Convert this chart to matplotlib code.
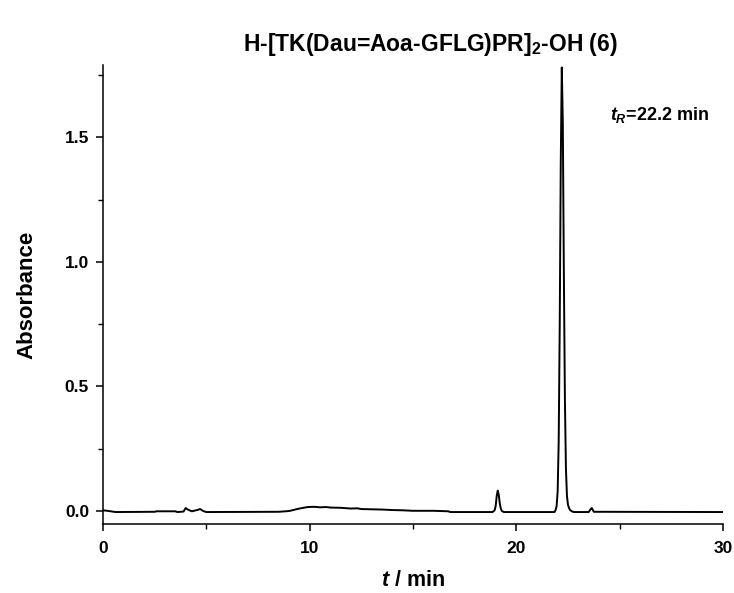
import matplotlib
matplotlib.use("Agg")
import matplotlib.pyplot as plt
from matplotlib.ticker import MultipleLocator

plt.rcParams['font.family'] = ['Liberation Sans', 'DejaVu Sans']
plt.rcParams['mathtext.fontset'] = 'custom'
plt.rcParams['mathtext.rm'] = 'Liberation Sans:bold'
plt.rcParams['mathtext.it'] = 'Liberation Sans:bold:italic'
plt.rcParams['mathtext.bf'] = 'Liberation Sans:bold'

# chromatogram (time in min, absorbance)
time_min = [0.0, 0.3, 0.6, 2.5, 2.6, 3.5, 3.6, 3.9, 4.0, 4.1, 4.3, 4.55, 4.7, 4.85, 5.0,
            8.5, 9.0, 9.5, 9.9, 10.2, 10.5, 10.8, 11.0, 11.5, 12.0, 12.3, 12.5, 13.0,
            13.5, 14.0, 14.5, 15.0, 16.0, 16.7, 16.8,
            18.85, 18.95, 19.0, 19.05, 19.1, 19.15, 19.2, 19.25, 19.3, 19.4,
            21.85, 21.9, 21.95, 22.0, 22.05, 22.1, 22.15, 22.2, 22.25, 22.3, 22.35,
            22.4, 22.45, 22.5, 22.55, 22.6, 22.7, 22.8,
            23.5, 23.6, 23.65, 23.75, 30.0]
absorbance = [0.003, 0.0, -0.004, -0.003, -0.001, -0.001, -0.004, -0.002, 0.012, 0.006,
              -0.001, 0.004, 0.008, 0.0, -0.004,
              -0.003, 0.0, 0.01, 0.016, 0.017, 0.015, 0.016, 0.014, 0.013, 0.01, 0.011,
              0.008, 0.007, 0.006, 0.004, 0.003, 0.001, 0.001, -0.001, -0.004,
              -0.004, 0.003, 0.02, 0.06, 0.082, 0.065, 0.03, 0.01, 0.0, -0.004,
              -0.004, 0.004, 0.02, 0.08, 0.28, 0.75, 1.40, 1.78, 1.55, 0.95, 0.45,
              0.17, 0.06, 0.025, 0.012, 0.004, -0.002, -0.004,
              -0.004, 0.008, 0.012, -0.003, -0.004]

title = 'H-[TK(Dau=Aoa-GFLG)PR]$_2$-OH (6)'
peak_label = '$t_R$=22.2 min'
x_label = '$t$ / min'
y_label = 'Absorbance'

fig = plt.figure(figsize=(7.34, 5.93), dpi=100)
ax = fig.add_axes([103/734, 1 - 524/593, (723 - 103)/734, (524 - 65)/593])
ax.plot(time_min, absorbance, color='black', lw=1.4)

ax.set_xlim(0, 30)
ax.set_ylim(-0.052, 1.79)
ax.xaxis.set_major_locator(MultipleLocator(10))
ax.xaxis.set_minor_locator(MultipleLocator(5))
ax.yaxis.set_major_locator(MultipleLocator(0.5))
ax.yaxis.set_minor_locator(MultipleLocator(0.25))
ax.yaxis.set_major_formatter(matplotlib.ticker.FormatStrFormatter('%.1f'))
for s in ['top', 'right']:
    ax.spines[s].set_visible(False)
for s in ['left', 'bottom']:
    ax.spines[s].set_linewidth(1.1)
ax.tick_params(which='major', direction='out', length=5, width=1.1, labelsize=12.5)
ax.tick_params(axis='x', which='major', pad=7)
ax.tick_params(axis='y', which='major', pad=5)
ax.tick_params(which='minor', direction='out', length=3.5, width=1.0)
for lab in ax.get_xticklabels() + ax.get_yticklabels():
    lab.set_fontweight('bold')

ax.set_xlabel(x_label, fontsize=15.5, fontweight='bold', labelpad=10)
ax.set_ylabel(y_label, fontsize=16, fontweight='bold', labelpad=20)
fig.text(430/734, 1 - 45/593, title, ha='center', va='center', fontsize=16.5, fontweight='bold')
ax.text(0.817, 0.892, peak_label, transform=ax.transAxes, fontsize=13, fontweight='bold',
        ha='left', va='center')

fig.savefig('out.png', dpi=100)
